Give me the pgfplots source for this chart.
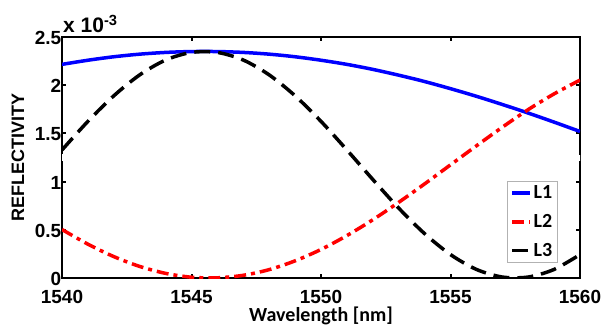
\documentclass[border=0pt]{standalone}
\usepackage{fontspec}
\setmainfont{Liberation Sans}
\newfontfamily\cali{Carlito}
\usepackage{pgfplots}
\pgfplotsset{compat=1.18}

% reflectivity spectra of the three layers (values in units of 1e-3)
\pgfplotstableread{
lam    L1     L2     L3
1540   2.216  0.503  1.328
1541   2.259  0.351  1.625
1542   2.295  0.222  1.890
1543   2.322  0.120  2.107
1544   2.340  0.048  2.261
1545   2.349  0.008  2.340
1546   2.349  0.002  2.340
1547   2.340  0.028  2.261
1548   2.322  0.087  2.107
1549   2.295  0.178  1.890
1550   2.259  0.296  1.625
1551   2.216  0.440  1.328
1552   2.164  0.604  1.022
1553   2.104  0.785  0.725
1554   2.038  0.976  0.460
1555   1.964  1.174  0.243
1556   1.885  1.371  0.089
1557   1.800  1.564  0.010
1558   1.711  1.747  0.010
1559   1.617  1.910  0.089
1560   1.520  2.053  0.243
}\spectra

\begin{document}
\begin{tikzpicture}
\path[use as bounding box] (-62bp,-55bp) rectangle (540bp,278bp);
\begin{axis}[
  scale only axis, width=518bp, height=241bp,
  xmin=1540, xmax=1560, ymin=0, ymax=2.5,
  xtick={1540,1545,...,1560}, ytick={0,0.5,...,2.5},
  tick align=inside, major tick length=4bp,
  tick style={line width=2bp, black},
  axis line style={line width=2.5bp},
  ticklabel style={font=\fontsize{19bp}{21bp}\selectfont\bfseries},
  /pgf/number format/assume math mode=true,
  xticklabel style={/pgf/number format/1000 sep={}, anchor=base, yshift=-25bp},
  yticklabel style={/pgf/number format/fixed, anchor=east, inner sep=0pt, xshift=-0.5bp, yshift=-1bp},
  xlabel={\cali\bfseries Wavelength [nm]},
  xlabel style={font=\fontsize{20bp}{22bp}\selectfont, at={([yshift=-43bp]axis description cs:0.5,0)}, anchor=base},
  ylabel={\bfseries REFLECTIVITY},
  ylabel style={font=\fontsize{18bp}{20bp}\selectfont, at={([xshift=-44bp]axis description cs:0,0.5)}, anchor=center},
  legend style={at={(0.957,0.062)}, anchor=south east, draw=gray!60, line width=0.8bp,
    font=\cali\bfseries\fontsize{20bp}{22bp}\selectfont, row sep=10bp, inner sep=3bp},
  legend cell align=left,
  legend image code/.code={\draw[#1] (0bp,0bp) -- (18bp,0bp);},
]
\addplot[blue, line width=3.5bp, smooth] table[x=lam, y=L1] {\spectra};
\addlegendentry{L1}
\addplot[red, line width=3.5bp, smooth, dash pattern=on 12bp off 5bp on 4bp off 5bp] table[x=lam, y=L2] {\spectra};
\addlegendentry{L2}
\addplot[black, line width=3.5bp, smooth, dash pattern=on 16bp off 8bp] table[x=lam, y=L3] {\spectra};
\addlegendentry{L3}
% axis break gaps in the side spines
\fill[white] ([xshift=-3bp]axis cs:1540,1.21) rectangle ([xshift=3bp]axis cs:1540,1.29);
\fill[white] ([xshift=-3bp]axis cs:1560,1.21) rectangle ([xshift=3bp]axis cs:1560,1.28);
\end{axis}
% common exponent of the y values
\node[anchor=base west, inner sep=0pt]
  at ([xshift=1bp,yshift=4bp]current axis.north west)
  {\fontsize{21bp}{23bp}\selectfont\bfseries x 10\textsuperscript{-3}};
\end{tikzpicture}
\end{document}
